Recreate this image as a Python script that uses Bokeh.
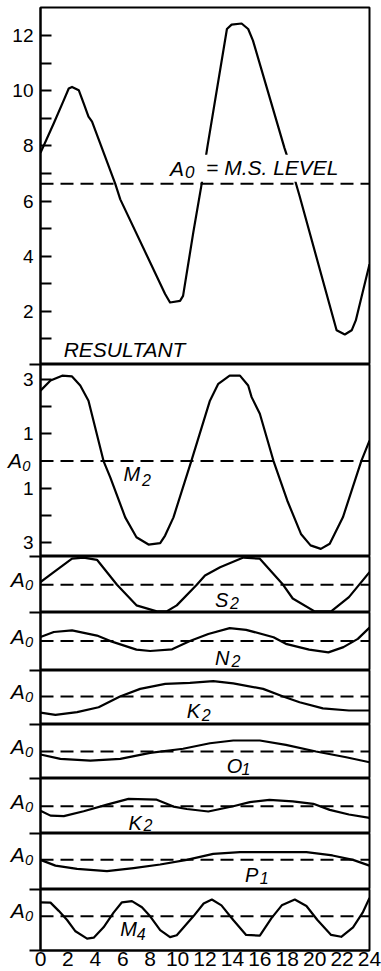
from bokeh.plotting import figure
from bokeh.layouts import column
from bokeh.models import Range1d, FixedTicker, Span, Label
from bokeh.embed import file_html
from bokeh.resources import INLINE

FONT = "Liberation Sans"

# ---------------- data (hours, heights) ----------------
hour_ticks = [0, 2, 4, 6, 8, 10, 12, 14, 16, 18, 20, 22, 24]

mean_sea_level = 6.63

res_hours = [0, 0.97, 1.7, 2.06, 2.3, 2.79, 3.15, 3.5, 3.76, 5.45, 5.82, 9.09, 9.45,
             10.18, 10.4, 11.15, 11.76, 12.18, 13.6, 13.94, 14.67, 15.15, 15.5, 17.8,
             18.55, 18.9, 21.6, 22.2, 22.7, 23.0, 24]
res_level = [7.75, 8.82, 9.66, 10.08, 10.14, 10.02, 9.54, 9.06, 8.88, 6.63, 6.06, 2.63, 2.32,
             2.38, 2.56, 4.87, 6.63, 7.98, 12.24, 12.4, 12.44, 12.24, 11.82, 7.92,
             6.78, 6.18, 1.31, 1.16, 1.31, 1.67, 3.71]

m2_hours = [0, 0.73, 1.58, 2.3, 2.9, 3.5, 4.6, 5.09, 6.18, 7.0, 7.88, 8.73, 9.09, 9.7, 11.0,
            12.36, 12.97, 13.8, 14.55, 15.15, 15.4, 16.0, 17.0, 18.0, 19.0, 19.7, 20.45,
            21.1, 22.06, 23.4, 24]
m2_level = [2.59, 2.96, 3.14, 3.11, 2.78, 2.22, 0.0, -0.6, -2.07, -2.8, -3.07, -3.02, -2.74,
            -2.07, 0.0, 2.22, 2.84, 3.14, 3.14, 2.78, 2.35, 1.74, 0.0, -1.45, -2.68, -3.1,
            -3.23, -3.04, -2.07, 0.0, 0.75]

s2_hours = [0, 0.97, 2.3, 3.15, 4.12, 5.58, 7.0, 8.48, 9.2, 9.94, 11.4, 12.0, 13.1, 14.8,
            16.0, 17.7, 18.4, 20.0, 21.2, 22.5, 24]
s2_level = [0.1, 0.46, 0.95, 0.99, 0.91, 0.0, -0.75, -0.97, -0.97, -0.75, 0.0, 0.34, 0.64,
            0.99, 0.95, 0.0, -0.5, -0.97, -0.97, -0.45, 0.46]

n2_hours = [0, 0.97, 2.3, 4.12, 5.1, 7.0, 8.0, 9.6, 10.9, 12.24, 13.8, 15.0, 17.0, 17.9,
            19.6, 21.0, 22.1, 23.15, 24]
n2_level = [0.15, 0.33, 0.39, 0.2, 0.0, -0.31, -0.36, -0.3, 0.0, 0.26, 0.47, 0.41, 0.14,
            -0.1, -0.31, -0.41, -0.22, 0.08, 0.49]

k2_hours = [0, 1.09, 2.67, 4.24, 5.8, 7.27, 9.1, 10.9, 12.6, 14.06, 16.24, 17.7, 18.9, 20.6,
            22.5, 24]
k2_level = [-0.59, -0.67, -0.57, -0.39, 0.0, 0.28, 0.46, 0.5, 0.56, 0.48, 0.28, 0.0, -0.21,
            -0.43, -0.51, -0.51]

o1_hours = [0, 1.45, 3.64, 5.82, 8.0, 10.4, 12.36, 14.06, 16.0, 17.9, 20.1, 22.3, 24]
o1_level = [-0.11, -0.27, -0.33, -0.27, -0.05, 0.1, 0.3, 0.4, 0.4, 0.24, 0.0, -0.21, -0.39]

k2b_hours = [0, 0.73, 1.7, 3.15, 4.85, 6.42, 8.48, 9.7, 10.67, 12.24, 14.06, 15.27, 16.7,
             18.4, 19.9, 21.1, 22.5, 24]
k2b_level = [-0.16, -0.34, -0.36, -0.18, 0.06, 0.27, 0.24, -0.01, -0.1, -0.19, 0.0, 0.15,
             0.23, 0.18, 0.09, -0.13, -0.3, -0.42]

p1_hours = [0, 1.09, 2.67, 4.85, 6.79, 8.73, 10.67, 12.6, 14.55, 17.0, 19.4, 21.3, 22.8, 24]
p1_level = [0.0, -0.21, -0.33, -0.41, -0.3, -0.17, 0.0, 0.22, 0.28, 0.28, 0.28, 0.16, 0.0,
            -0.21]

m4_hours = [0, 0.73, 1.33, 1.94, 2.55, 3.4, 3.88, 4.6, 5.33, 5.94, 6.67, 7.4, 8.0, 8.73,
            9.45, 9.94, 11.15, 11.9, 12.5, 13.2, 14.06, 15.0, 16.0, 16.85, 17.6, 18.55,
            19.4, 20.2, 21.2, 21.94, 22.8, 23.5, 24]
m4_level = [0.46, 0.45, 0.18, -0.12, -0.49, -0.73, -0.7, -0.36, 0.12, 0.46, 0.5, 0.3, 0.0,
            -0.45, -0.68, -0.62, 0.0, 0.42, 0.55, 0.36, -0.12, -0.61, -0.63, -0.06, 0.36,
            0.55, 0.34, -0.12, -0.61, -0.67, -0.36, 0.12, 0.6]

res_ticks = [1, 2, 3, 4, 5, 6, 7, 8, 9, 10, 11, 12]
res_tick_text = ["", "2", "", "4", "", "6", "", "8", "", "10", "", "12"]
m2_ticks = [3, 2, 1, -1, -2, -3]
m2_tick_text = ["3", "", "1", "1", "", "3"]
a0_text = "A\u2080"

# ---------------- layout / style ----------------
W = 381
ML, MR = 40, 12
xr = Range1d(0, 24)
A0_TICK = 0.18  # tick-label anchor (slightly above the A0 line)
LW = 2.2

# name, sub, hours, level, y-range, canvas height, name pos, sub pos
panels = [
    ("S", "2", s2_hours, s2_level, (-1.01, 1.03), 56, (12.73, -0.54), (13.82, -0.68)),
    ("N", "2", n2_hours, n2_level, (-1.07, 1.04), 58, (12.73, -0.61), (13.94, -0.73)),
    ("K", "2", k2_hours, k2_level, (-1.02, 0.95), 54, (10.67, -0.54), (11.76, -0.66)),
    ("O", "1", o1_hours, o1_level, (-0.98, 0.98), 54, (13.58, -0.54), (14.67, -0.65)),
    ("K", "2", k2b_hours, k2b_level, (-0.99, 1.01), 55, (6.42, -0.61), (7.51, -0.68)),
    ("P", "1", p1_hours, p1_level, (-1.08, 0.96), 56, (14.91, -0.54), (16.0, -0.66)),
    ("M", "4", m4_hours, m4_level, (-1.12, 0.88), 79, (5.82, -0.43), (7.03, -0.58)),
]


def base_fig(height, yr, top_border=0, x_axis=False):
    p = figure(width=W, height=height, x_range=xr, y_range=Range1d(*yr),
               output_backend="svg", toolbar_location=None,
               x_axis_location="below" if x_axis else None,
               min_border_left=ML, min_border_right=MR,
               min_border_top=top_border, min_border_bottom=0)
    p.grid.visible = False
    p.outline_line_color = "black"
    p.outline_line_width = 2
    p.outline_line_alpha = 1
    p.background_fill_color = "white"
    p.border_fill_color = "white"
    ax = p.yaxis[0]
    ax.axis_line_width = 2
    ax.major_tick_in = 11
    ax.major_tick_out = 0
    ax.minor_tick_in = 0
    ax.minor_tick_out = 11
    ax.major_tick_line_width = 2
    ax.minor_tick_line_width = 2
    ax.major_label_standoff = -4
    ax.major_label_text_font = FONT
    ax.major_label_text_font_size = "19px"
    ax.major_label_text_color = "black"
    if x_axis:
        xa = p.xaxis[0]
        xa.ticker = FixedTicker(ticks=hour_ticks)
        xa.axis_line_width = 2
        xa.major_tick_in = 0
        xa.major_tick_out = 0
        xa.minor_tick_in = 0
        xa.minor_tick_out = 0
        xa.major_label_standoff = 1
        xa.major_label_text_font = FONT
        xa.major_label_text_font_size = "21px"
        xa.major_label_text_color = "black"
    return p


def txt(p, x, y, s, size, **kw):
    p.add_layout(Label(x=x, y=y, text=s, text_font=FONT, text_font_size=size,
                       text_font_style="italic", text_align="left",
                       text_baseline="middle", text_color="black", **kw))


def mean_line(p, level):
    p.add_layout(Span(location=level, dimension="width", line_color="black",
                      line_width=2, line_dash="13 7"))


figs = []

# Resultant panel
res_range = (0.07, 13.02)
p = base_fig(364, res_range, top_border=7)
p.yaxis[0].ticker = FixedTicker(ticks=res_ticks, minor_ticks=[res_range[0]])
p.yaxis[0].major_label_overrides = dict(zip(res_ticks, res_tick_text))
mean_line(p, mean_sea_level)
p.line(res_hours, res_level, line_color="black", line_width=LW, line_join="round")
txt(p, 1.69, 0.60, "RESULTANT", "21px")
txt(p, 9.45, 7.19, "A", "21px")
txt(p, 10.55, 7.04, "0", "17px")
txt(p, 11.64, 7.19, "= M.S. LEVEL", "21px", background_fill_color="white",
    padding=(6, 3, 1, 3))
figs.append(p)

# M2 panel
m2_range = (-3.51, 3.55)
p = base_fig(192, m2_range)
ax = p.yaxis[0]
ax.ticker = FixedTicker(ticks=m2_ticks, minor_ticks=list(m2_range))
ax.major_label_overrides = dict(zip(m2_ticks, m2_tick_text))
ax.axis_label = a0_text
ax.axis_label_orientation = "horizontal"
ax.axis_label_standoff = -11
ax.axis_label_text_font = FONT
ax.axis_label_text_font_size = "21px"
ax.axis_label_text_font_style = "italic"
ax.axis_label_text_color = "black"
mean_line(p, 0)
p.line(m2_hours, m2_level, line_color="black", line_width=LW, line_join="round")
txt(p, 6.06, -0.47, "M", "20px")
txt(p, 7.4, -0.69, "2", "16px")
figs.append(p)

for i, (name, sub, hh, lv, yr, hgt, npos, spos) in enumerate(panels):
    last = i == len(panels) - 1
    p = base_fig(hgt, yr, x_axis=last)
    ax = p.yaxis[0]
    ax.ticker = FixedTicker(ticks=[A0_TICK], minor_ticks=list(yr))
    ax.major_label_overrides = {A0_TICK: a0_text}
    ax.major_tick_in = 0
    ax.major_label_text_font_size = "21px"
    ax.major_label_text_font_style = "italic"
    mean_line(p, 0)
    p.line(hh, lv, line_color="black", line_width=LW, line_join="round")
    txt(p, npos[0], npos[1], name, "20px")
    txt(p, spos[0], spos[1], sub, "16px")
    figs.append(p)

layout = column(*figs, spacing=0)
open("out.html", "w").write(file_html(layout, INLINE))
